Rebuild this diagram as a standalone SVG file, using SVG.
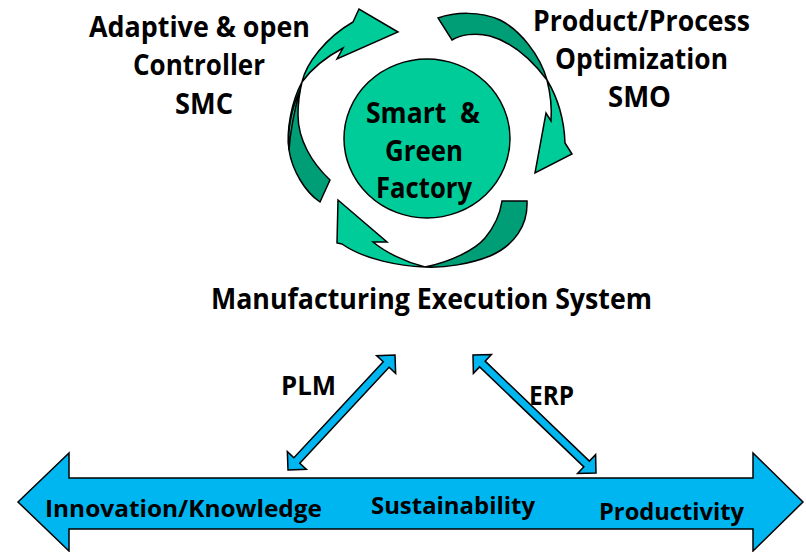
<svg xmlns="http://www.w3.org/2000/svg" width="806" height="552" viewBox="0 0 806 552">
<style>
.t{font-family:"Open Sans","Liberation Sans",sans-serif;font-weight:700;fill:#000}
.lt{fill:#00CC99;stroke:#000;stroke-width:1.5;stroke-linejoin:miter}
.dk{fill:#009E76;stroke:#000;stroke-width:1.5;stroke-linejoin:miter}
.bl{fill:#00B6F0;stroke:#000;stroke-width:1.5;stroke-linejoin:miter}
</style>
<rect width="806" height="552" fill="#fff"/>
<g id="cycle-arrows">
  <g id="arrow-smc">
    <path class="dk" d="M302,82 C292,100 286,130 289,150 C292,170 305,192 320,202 L330,180 C312,163 298,140 298,115 C298,100 300,90 302,82 Z"/>
    <path class="lt" d="M300,90 C292,107 287,130 289,150 C290,135 294,112 300,90 Z"/>
    <path class="lt" d="M302,82 C306,64 325,38 353,22 L359,9 L398,32 L337,59 L343,48 C328,56 312,68 302,82 Z"/>
  </g>
  <g id="arrow-smo">
    <path class="dk" d="M438,18 C455,12 480,11 500,20 C520,30 540,55 547,80 C535,64 515,43 490,36 C475,32 460,35 452,40 Z"/>
    <path class="lt" d="M547,80 C556,95 564,115 565,143 L572,154 L535,173 L546,113 L551,121 C552,108 550,92 547,80 Z"/>
  </g>
  <g id="arrow-mes">
    <path class="dk" d="M527,201 C528,225 515,245 490,256 C470,264 445,268 425,267 C450,262 475,250 485,238 C495,226 500,215 502,201 Z"/>
    <path class="lt" d="M425,267 C400,266 365,260 342,244 L337,243 L338,200 L387,242 L373,242 C385,252 405,262 425,267 Z"/>
  </g>
</g>
<g id="factory">
  <ellipse cx="427" cy="138.5" rx="83" ry="79.5" fill="#00CC99" stroke="#000" stroke-width="1.5"/>
  <text class="t" x="366" y="123" font-size="28" textLength="114" lengthAdjust="spacingAndGlyphs" xml:space="preserve">Smart  &amp;</text>
  <text class="t" x="385" y="161" font-size="28" textLength="78" lengthAdjust="spacingAndGlyphs">Green</text>
  <text class="t" x="376" y="198" font-size="28" textLength="96" lengthAdjust="spacingAndGlyphs">Factory</text>
</g>
<g id="smc-label">
  <text class="t" x="89" y="37" font-size="28" textLength="221" lengthAdjust="spacingAndGlyphs">Adaptive &amp; open</text>
  <text class="t" x="133" y="75" font-size="28" textLength="132" lengthAdjust="spacingAndGlyphs">Controller</text>
  <text class="t" x="175" y="114" font-size="28" textLength="58" lengthAdjust="spacingAndGlyphs">SMC</text>
</g>
<g id="smo-label">
  <text class="t" x="533" y="31" font-size="28" textLength="217" lengthAdjust="spacingAndGlyphs">Product/Process</text>
  <text class="t" x="555" y="69" font-size="28" textLength="173" lengthAdjust="spacingAndGlyphs">Optimization</text>
  <text class="t" x="608" y="107" font-size="28" textLength="63" lengthAdjust="spacingAndGlyphs">SMO</text>
</g>
<g id="mes">
  <text class="t" x="211" y="309" font-size="28" textLength="441" lengthAdjust="spacingAndGlyphs">Manufacturing Execution System</text>
</g>
<g id="axis">
  <polygon class="bl" points="18,502 69,453 69,478 753,478 753,453 803,502 753,551 753,529 69,529 69,551"/>
  <text class="t" x="45" y="517" font-size="24" textLength="277" lengthAdjust="spacingAndGlyphs">Innovation/Knowledge</text>
  <text class="t" x="371" y="514" font-size="24" textLength="164" lengthAdjust="spacingAndGlyphs">Sustainability</text>
  <text class="t" x="599" y="520" font-size="24" textLength="145" lengthAdjust="spacingAndGlyphs">Productivity</text>
</g>
<g id="connectors">
  <polygon id="plm-link" class="bl" points="288,470 306.38,469.34 299.79,463.21 389.07,367.24 395.66,373.38 395,355 376.62,355.66 383.22,361.79 293.93,457.76 287.34,451.62"/>
  <polygon id="erp-link" class="bl" points="473,355 473.38,373.38 479.61,366.89 583.85,466.89 577.62,473.38 596,473 595.62,454.62 589.39,461.11 485.15,361.11 491.38,354.62"/>
</g>
<g id="plm-label"><text class="t" x="281" y="395" font-size="26" textLength="55" lengthAdjust="spacingAndGlyphs">PLM</text></g>
<g id="erp-label"><text class="t" x="529" y="405" font-size="26" textLength="45" lengthAdjust="spacingAndGlyphs">ERP</text></g>
</svg>
